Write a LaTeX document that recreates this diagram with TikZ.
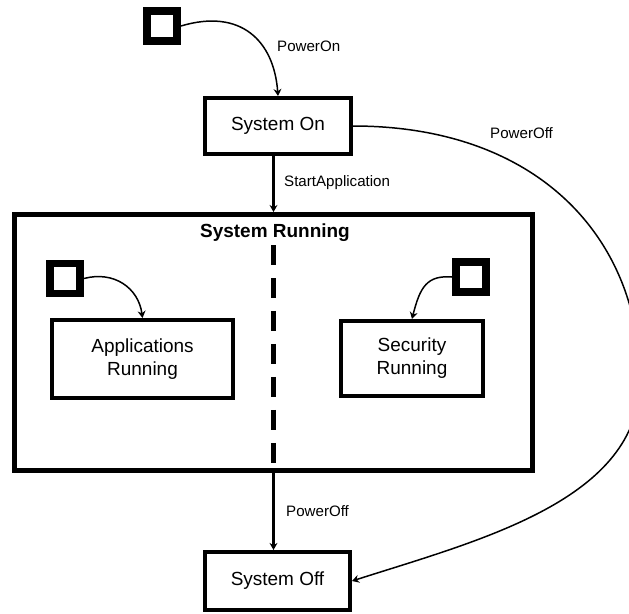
\documentclass[tikz,border=0pt]{standalone}
\usepackage{fontspec}
\setmainfont{Liberation Sans}
\usetikzlibrary{arrows.meta, positioning}

\begin{document}
\begin{tikzpicture}[x=0.02cm, y=-0.02cm,
    state/.style={draw, line width=2.3pt, fill=white, align=center, font=\fontsize{10.8}{13}\selectfont, inner sep=0pt},
    initial/.style={draw, line width=4.5pt, minimum size=0.6cm, inner sep=0pt},
    trans/.style={-{Stealth[length=4pt, width=4.5pt]}, line width=0.85pt},
    tlabel/.style={font=\fontsize{8.6}{10}\selectfont, anchor=west}]
  \useasboundingbox (0,0) rectangle (629,613);
  % tilstande
  \node[initial] (init1) at (162,26) {};
  \node[state, minimum width=2.92cm, minimum height=1.12cm] (son) at (278,126) {System On};
  \node[draw, line width=2.85pt, minimum width=10.36cm, minimum height=5.12cm] (srun) at (273.5,342.5) {};
  \node[font=\bfseries\fontsize{10.8}{13}\selectfont] (srtitle) at (275,233) {System Running};
  \node[initial] (init2) at (65,278.5) {};
  \node[state, minimum width=3.62cm, minimum height=1.56cm] (app) at (142.5,359) {Applications\\Running};
  \node[initial] (init3) at (471,277) {};
  \node[state, minimum width=2.84cm, minimum height=1.5cm] (sec) at (412,358.5) {Security\\Running};
  \node[state, minimum width=2.9cm, minimum height=1.16cm] (soff) at (277.5,581) {System Off};
  % skillelinje
  \coordinate (dtop) at (273.5,245);
  \draw[line width=0.1cm, dash pattern=on 0.4cm off 0.26cm] (dtop) -- (dtop |- srun.south);
  % overgange
  \draw[trans] (init1.east) .. controls +(60,-18) and +(-4,-55) .. (son.north);
  \node[tlabel] (lon) at (271,46) {PowerOn};
  \draw[trans, line width=1.7pt] (srun.north |- son.south) -- (srun.north);
  \node[tlabel] (lstart) at (278,183) {StartApplication};
  \draw[trans] (init2.east) .. controls +(30,-8) and +(-4,-30) .. (app.north);
  \draw[trans] (init3.west) .. controls +(-25,-2) and +(8,-32) .. (sec.north);
  \draw[trans, line width=1.7pt] (srun.south) -- (srun.south |- soff.north);
  \node[tlabel] (loff1) at (280,511) {PowerOff};
  \coordinate (rside) at (640,380);
  \draw[trans] (son.east) .. controls (540,126) and (640,240) .. (rside)
    .. controls (640,500) and (480,540) .. (soff.east);
  \node[tlabel] (loff2) at (484,133) {PowerOff};
\end{tikzpicture}
\end{document}
